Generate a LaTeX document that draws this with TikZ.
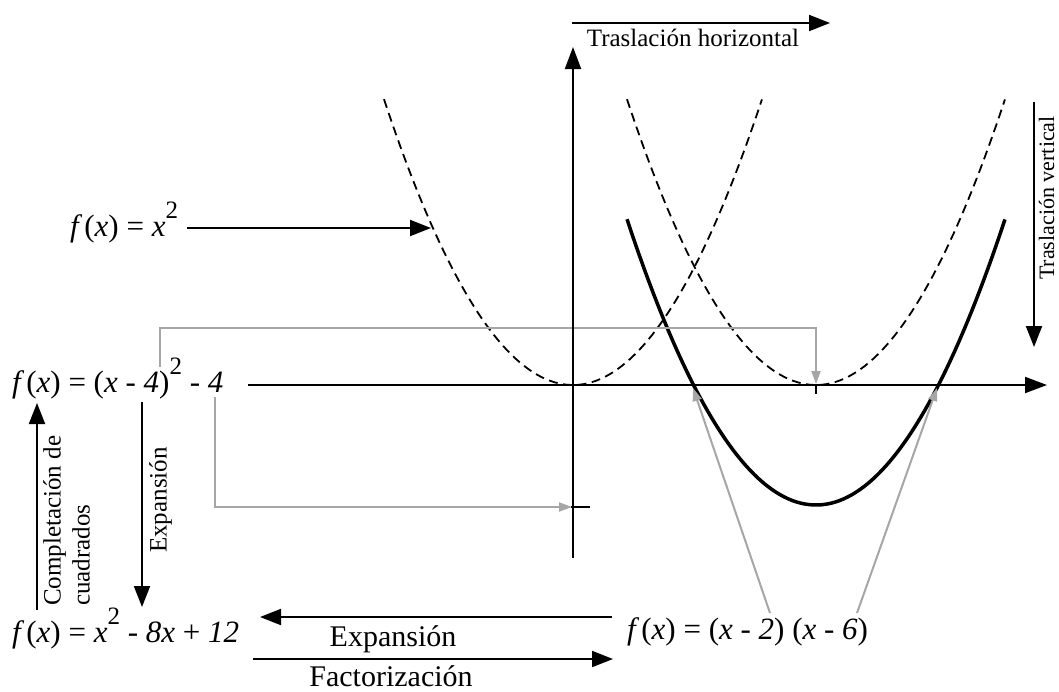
\documentclass[tikz,border=0pt]{standalone}
\usepackage{fontspec}
\setmainfont{Liberation Serif}
\usetikzlibrary{arrows.meta}
\definecolor{graylc}{RGB}{166,166,166}
\newcommand{\fxx}{\textit{f}\kern2pt(\textit{x})}
\newcommand{\sqtwo}{\raisebox{0.55em}{\fontsize{25}{25}\selectfont 2}}
\begin{document}
\begin{tikzpicture}[x=1pt,y=-1pt,
  axis/.style={line width=2pt, -{Triangle[length=22pt,width=16pt]}},
  blk/.style={line width=2pt, -{Triangle[length=21pt,width=16pt]}},
  gry/.style={draw=graylc, line width=2pt, -{Triangle[length=13pt,width=9pt]}, color=graylc},
  dsh/.style={line width=1.8pt, dash pattern=on 9pt off 5.5pt},
  sol/.style={line width=3.5pt},
  tickline/.style={line width=2pt},
  formula/.style={font=\fontsize{31}{37}\selectfont, inner sep=0pt, anchor=base west},
  lbl/.style={font=\fontsize{25}{29}\selectfont, inner sep=0pt},
  biglbl/.style={font=\fontsize{30}{34}\selectfont, inner sep=0pt, anchor=base}]
\useasboundingbox (0,0) rectangle (1059,691);
% ---- coordinates
\coordinate (ybot) at (573,558);
\coordinate (ytop) at (573,47);
\coordinate (xl) at (248,385);
\coordinate (xr) at (1047,385);
\coordinate (tkYa) at (571,507);
\coordinate (tkYb) at (590,507);
\coordinate (tkXa) at (816,385);
\coordinate (tkXb) at (816,394);
% ---- curves
\draw[dsh] plot[domain=-1.89:1.89, samples=90] ({573+100*\x},{385-80*\x*\x});
\draw[dsh] plot[domain=-1.89:1.89, samples=90] ({816+100*\x},{385-80*\x*\x});
\draw[sol] plot[domain=-1.89:1.89, samples=90] ({816+100*\x},{505-80*\x*\x});
% ---- formulas and labels
\node[formula] (F1) at (70,236) {\fxx{} = \textit{x}\sqtwo};
\node[formula] (F2) at (12,392) {\fxx{} = (\textit{x} - \textit{4})\sqtwo{} - \textit{4}};
\node[formula] (F3) at (12,642) {\fxx{} = \textit{x}\sqtwo{} - \textit{8x} + \textit{12}};
\node[formula] (F4) at (627,639) {\fxx{} = (\textit{x} - \textit{2}) (\textit{x} - \textit{6})};
\node[lbl, anchor=base] (TH) at (693,46) {Traslación horizontal};
\node[lbl, font=\fontsize{22}{26}\selectfont, rotate=90, anchor=north] (TV) at (1038.5,198) {Traslación vertical};
\node[lbl, rotate=90, anchor=north] (EXv) at (149,500) {Expansión};
\node[lbl, rotate=90, anchor=north west, align=left] (CC) at (43,606) {Completación de\\cuadrados};
\node[biglbl] (EXh) at (393,646) {Expansión};
\node[biglbl] (FAC) at (391,686) {Factorización};
% ---- connector end points
\coordinate (a1s) at (187,228);
\coordinate (a1e) at (431,228);
\coordinate (g1a) at (160,367);
\coordinate (g1b) at (160,328);
\coordinate (g1c) at (816,328);
\coordinate (g1d) at (816,384);
\coordinate (g2a) at (215,397);
\coordinate (g2b) at (215,507);
\coordinate (g2c) at (572,507);
\coordinate (g3a) at (770,613);
\coordinate (g3b) at (693,388);
\coordinate (g4a) at (857,613);
\coordinate (g4b) at (937,388);
\coordinate (ex1) at (142,402);
\coordinate (ex2) at (142,607);
\coordinate (cc1) at (37,610);
\coordinate (cc2) at (37,403);
\coordinate (b1s) at (612,617);
\coordinate (b1e) at (260,617);
\coordinate (b2s) at (253,659);
\coordinate (b2e) at (613,659);
\coordinate (th1) at (572,23);
\coordinate (th2) at (830,23);
\coordinate (tv1) at (1034,102);
\coordinate (tv2) at (1034,347);
% ---- gray connectors
\draw[gry] (g1a) -- (g1b) -- (g1c) -- (g1d);
\draw[gry] (g2a) -- (g2b) -- (g2c);
\draw[gry] (g3a) -- (g3b);
\draw[gry] (g4a) -- (g4b);
% ---- axes and ticks
\draw[axis] (xl) -- (xr);
\draw[axis] (ybot) -- (ytop);
\draw[tickline] (tkYa) -- (tkYb);
\draw[line width=1.5pt] (tkXa) -- (tkXb);
% ---- black arrows
\draw[blk] (a1s) -- (a1e);
\draw[blk] (ex1) -- (ex2);
\draw[blk] (cc1) -- (cc2);
\draw[blk] (b1s) -- (b1e);
\draw[blk] (b2s) -- (b2e);
\draw[blk] (th1) -- (th2);
\draw[blk] (tv1) -- (tv2);
\end{tikzpicture}
\end{document}
